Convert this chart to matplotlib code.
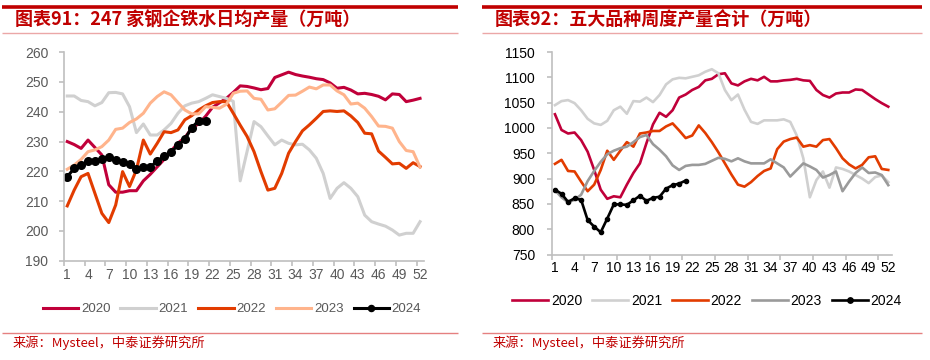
import numpy as np
import matplotlib
matplotlib.use('Agg')
import matplotlib.pyplot as plt
from matplotlib.lines import Line2D

plt.rcParams['font.family'] = ['Liberation Sans', 'Noto Sans CJK SC', 'DejaVu Sans']
CJK = ['Noto Sans CJK SC', 'DejaVu Sans']

W, H = 930, 360

# ---- data: left chart, daily hot metal output of 247 mills (10k t) ----
weeks = np.arange(1, 53)
iron_2020 = [230.0, 229.0, 227.7, 230.5, 228.0, 225.5, 215.5, 213.0, 213.0, 213.5,
             213.5, 216.8, 219.0, 221.5, 224.0, 226.8, 229.5, 231.3, 234.5, 236.0,
             238.5, 241.5, 243.0, 244.5, 246.5, 248.7, 248.5, 248.0, 247.4, 247.8,
             251.5, 252.4, 253.3, 252.5, 252.0, 251.6, 251.1, 250.8, 249.7, 247.9,
             248.2, 247.3, 246.0, 246.2, 245.8, 245.2, 244.0, 246.0, 245.8, 243.4,
             243.9, 244.5]
iron_2021 = [245.3, 245.3, 243.8, 243.4, 242.0, 243.1, 246.4, 246.5, 246.0, 241.7,
             233.0, 235.9, 232.2, 232.2, 233.9, 236.1, 239.5, 242.0, 242.9, 243.4,
             244.5, 245.7, 245.1, 244.5, 243.5, 216.8, 226.7, 236.7, 235.0, 231.9,
             228.9, 230.5, 229.4, 228.9, 229.1, 227.2, 224.4, 219.3, 210.9, 214.3,
             216.2, 214.3, 211.5, 205.3, 203.1, 202.3, 201.6, 200.3, 198.6, 199.2,
             199.2, 203.1]
iron_2022 = [208.4, 213.7, 218.2, 219.3, 212.6, 205.9, 202.8, 208.7, 219.9, 214.9,
             220.5, 230.5, 225.8, 229.4, 233.3, 233.0, 233.9, 237.3, 238.7, 240.6,
             242.0, 243.1, 243.4, 243.4, 239.5, 235.5, 231.7, 226.6, 219.9, 213.7,
             214.3, 219.3, 226.1, 230.0, 233.6, 235.6, 237.8, 240.1, 240.3, 240.1,
             240.3, 238.6, 236.4, 232.8, 232.6, 226.8, 224.7, 222.5, 222.7, 221.0,
             222.9, 221.6]
iron_2023 = [220.7, 222.1, 224.0, 226.6, 227.2, 228.3, 230.5, 234.1, 234.5, 236.4,
             237.6, 239.5, 242.9, 245.1, 246.7, 245.7, 243.1, 240.6, 239.3, 239.3,
             241.7, 241.5, 241.2, 242.5, 246.2, 246.9, 247.0, 244.5, 244.2, 240.6,
             241.0, 243.2, 245.5, 245.6, 246.9, 248.3, 247.7, 249.0, 249.0, 247.0,
             245.7, 242.6, 242.9, 241.2, 238.4, 235.2, 235.1, 234.5, 230.0, 227.0,
             226.6, 221.4]
iron_2024 = [218.2, 221.0, 222.1, 223.4, 223.6, 224.1, 224.7, 223.8, 223.1, 222.3,
             220.9, 221.6, 221.4, 223.5, 225.0, 226.5, 228.7, 230.8, 234.7, 237.0,
             236.9]

# ---- data: right chart, weekly output of five major steel products (10k t) ----
five_2020 = [1027, 996, 989, 991, 976, 953, 917, 878, 860, 865,
             863, 888, 911, 930, 970, 1007, 1030, 1022, 1035, 1060,
             1066, 1075, 1081, 1094, 1097, 1106, 1108, 1088, 1084, 1092,
             1097, 1094, 1101, 1092, 1092, 1094, 1095, 1097, 1094, 1093,
             1075, 1065, 1060, 1068, 1070, 1070, 1076, 1075, 1066, 1057,
             1049, 1042]
five_2021 = [1045, 1053, 1055, 1049, 1035, 1018, 1009, 1006, 1014, 1035,
             1042, 1028, 1053, 1052, 1060, 1051, 1065, 1086, 1096, 1099,
             1098, 1101, 1104, 1111, 1116, 1108, 1075, 1055, 1066, 1036,
             1012, 1008, 1015, 1015, 1015, 1017, 1012, 985, 940, 863,
             897, 914, 882, 922, 919, 914, 907, 900, 891, 903,
             906, 893]
five_2022 = [929, 937, 915, 914, 894, 875, 888, 917, 955, 937,
             955, 972, 963, 989, 991, 994, 994, 1003, 1009, 995,
             980, 985, 1005, 990, 972, 952, 930, 908, 888, 884,
             893, 905, 915, 920, 958, 973, 978, 981, 963, 966,
             963, 976, 978, 960, 940, 928, 920, 927, 942, 944,
             919, 917]
five_2023 = [877, 863, 853, 858, 868, 895, 915, 933, 948, 955,
             960, 963, 972, 982, 986, 968, 957, 944, 926, 917,
             925, 927, 927, 929, 935, 941, 939, 934, 940, 934,
             930, 930, 930, 938, 930, 922, 904, 917, 930, 924,
             917, 902, 907, 914, 875, 894, 911, 922, 911, 912,
             907, 887]
five_2024 = [878, 870, 854, 861, 858, 818, 805, 794, 821, 849,
             849, 848, 857, 866, 856, 862, 864, 880, 887, 890,
             896]

week_labels = list(range(1, 53, 3))

c2020 = '#C0003A'
c2021 = '#D0D0D0'
c2022 = '#E23C00'
c2023_left = '#FFB48C'
c2023_right = '#9A9A9A'
axis_c = '#BFBFBF'

fig = plt.figure(figsize=(W / 100, H / 100), dpi=100)


def fx(px):
    return px / W


def fy(py):
    return 1 - py / H


def hline(x0, x1, y, color, lw):
    fig.add_artist(Line2D([fx(x0), fx(x1)], [fy(y), fy(y)], color=color, lw=lw,
                          transform=fig.transFigure, solid_capstyle='butt'))


# frame decorations
for x0, x1 in [(2, 458), (482, 922)]:
    hline(x0, x1, 6.5, '#C00000', 2.6)
    hline(x0, x1, 33, '#EBA7A7', 1.0)
    hline(x0, x1, 333, '#E58080', 1.0)

fig.text(fx(15), fy(20.5), '图表91：247 家钢企铁水日均产量（万吨）', fontsize=13,
         fontweight='bold', color='#C00000', va='center', family=CJK)
fig.text(fx(495), fy(20.5), '图表92：五大品种周度产量合计（万吨）', fontsize=13,
         fontweight='bold', color='#C00000', va='center', family=CJK)
for x in (13, 493):
    fig.text(fx(x), fy(343), '来源：Mysteel，中泰证券研究所', fontsize=9.5,
             color='#C00000', va='center', family=CJK)


def style_axis(ax, label_c, minor_pos, xpad, ypad):
    for s in ('top', 'right'):
        ax.spines[s].set_visible(False)
    for s in ('left', 'bottom'):
        ax.spines[s].set_color(axis_c)
        ax.spines[s].set_linewidth(1.2)
    ax.set_xticks(week_labels)
    ax.set_xticks(minor_pos, minor=True)
    ax.tick_params(axis='x', which='major', length=0, pad=xpad, labelsize=10,
                   labelcolor=label_c)
    ax.tick_params(axis='x', which='minor', length=3.6, width=1.2, color=axis_c,
                   direction='out')
    ax.tick_params(axis='y', length=3.6, width=1.2, color=axis_c, pad=ypad,
                   labelsize=10, labelcolor=label_c)


# ---- left chart ----
ax1 = fig.add_axes([fx(63.8), fy(260.7), fx(359.7), 208.5 / H])
lw = 2.2
ax1.plot(weeks, iron_2020, color=c2020, lw=lw, label='2020')
ax1.plot(weeks, iron_2021, color=c2021, lw=lw, label='2021')
ax1.plot(weeks, iron_2022, color=c2022, lw=lw, label='2022')
ax1.plot(weeks, iron_2023, color=c2023_left, lw=lw, label='2023')
ax1.plot(weeks[:len(iron_2024)], iron_2024, color='black', lw=lw, marker='o',
         markersize=5.5, label='2024')
ax1.set_xlim(0.5, 52.5)
ax1.set_ylim(190, 260)
ax1.set_yticks(np.arange(190, 261, 10))
style_axis(ax1, '#595959', np.arange(0.5, 53, 3), 5.5, 7.5)
leg1 = ax1.legend(loc='center', bbox_to_anchor=(fx(232), fy(309)),
                  bbox_transform=fig.transFigure, ncol=5, frameon=False,
                  fontsize=9.5, handlelength=2.7, handletextpad=0.2,
                  columnspacing=0.75, markerscale=0.8)
for t in leg1.get_texts():
    t.set_color('#595959')

# ---- right chart ----
ax2 = fig.add_axes([fx(551.7), fy(254.5), fx(340.5), 202.5 / H])
lw = 1.9
ax2.plot(weeks, five_2020, color=c2020, lw=lw, label='2020')
ax2.plot(weeks, five_2021, color=c2021, lw=lw, label='2021')
ax2.plot(weeks, five_2022, color=c2022, lw=lw, label='2022')
ax2.plot(weeks, five_2023, color=c2023_right, lw=lw, label='2023')
ax2.plot(weeks[:len(five_2024)], five_2024, color='black', lw=lw, marker='o',
         markersize=3, label='2024')
ax2.set_xlim(0.5, 52.6)
ax2.set_ylim(750, 1150)
ax2.set_yticks(np.arange(750, 1151, 50))
style_axis(ax2, 'black', np.arange(0.5, 52, 5), 5, 8.4)
ax2.legend(loc='center', bbox_to_anchor=(fx(707), fy(301)),
           bbox_transform=fig.transFigure, ncol=5, frameon=False,
           fontsize=10, handlelength=2.6, handletextpad=0.2,
           columnspacing=0.7, markerscale=1.3)

fig.savefig('out.png', dpi=100)
